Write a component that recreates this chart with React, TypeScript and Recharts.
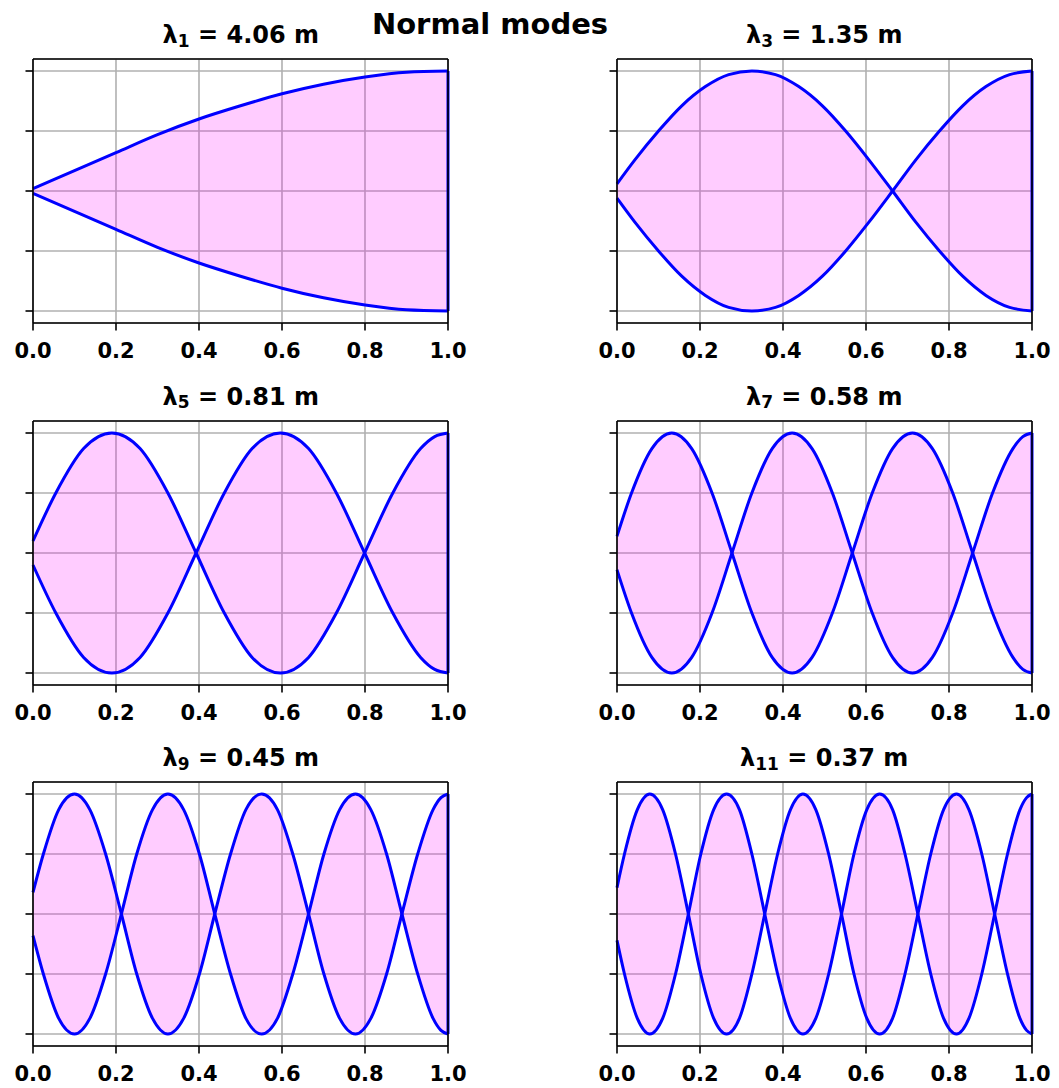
import { ComposedChart, Area, Line, XAxis, YAxis, CartesianGrid, ReferenceLine } from 'recharts';

// tick positions shared by every panel
const xTicks = [0, 0.2, 0.4, 0.6, 0.8, 1.0];
const yTicks = [-1, -0.5, 0, 0.5, 1];

// mode numbers and wavelength labels (titles)
const modeNums = ['1', '3', '5', '7', '9', '11'];
const waveLabels = ['4.06', '1.35', '0.81', '0.58', '0.45', '0.37'];

// mode 1
const x1 = [0, 0.1, 0.2, 0.3, 0.4, 0.5, 0.6, 0.7, 0.8, 0.9, 1.0];
const up1 = [0.02, 0.17, 0.32, 0.47, 0.6, 0.71, 0.81, 0.89, 0.95, 0.99, 1.0];
const lo1 = [-0.02, -0.17, -0.32, -0.47, -0.6, -0.71, -0.81, -0.89, -0.95, -0.99, -1.0];

// mode 3
const x3 = [0, 0.043, 0.1, 0.156, 0.213, 0.269, 0.325, 0.382, 0.438, 0.495, 0.551, 0.607, 0.664, 0.72, 0.777, 0.833, 0.889, 0.946, 1.0];
const up3 = [0.06, 0.26, 0.5, 0.71, 0.87, 0.97, 1.0, 0.97, 0.87, 0.71, 0.5, 0.26, 0.0, -0.26, -0.5, -0.71, -0.87, -0.97, -1.0];
const lo3 = [-0.06, -0.26, -0.5, -0.71, -0.87, -0.97, -1.0, -0.97, -0.87, -0.71, -0.5, -0.26, 0.0, 0.26, 0.5, 0.71, 0.87, 0.97, 1.0];

// mode 5
const x5 = [0, 0.055, 0.122, 0.19, 0.258, 0.325, 0.393, 0.461, 0.528, 0.596, 0.664, 0.731, 0.799, 0.867, 0.934, 0.968, 1.0];
const up5 = [0.1, 0.5, 0.87, 1.0, 0.87, 0.5, 0.0, -0.5, -0.87, -1.0, -0.87, -0.5, 0.0, 0.5, 0.87, 0.97, 1.0];
const lo5 = [-0.1, -0.5, -0.87, -1.0, -0.87, -0.5, 0.0, 0.5, 0.87, 1.0, 0.87, 0.5, 0.0, -0.5, -0.87, -0.97, -1.0];

// mode 7
const x7 = [0, 0.035, 0.084, 0.132, 0.18, 0.229, 0.277, 0.325, 0.374, 0.422, 0.47, 0.519, 0.567, 0.615, 0.664, 0.712, 0.76, 0.809, 0.857, 0.905, 0.954, 0.978, 1.0];
const up7 = [0.14, 0.5, 0.87, 1.0, 0.87, 0.5, 0.0, -0.5, -0.87, -1.0, -0.87, -0.5, 0.0, 0.5, 0.87, 1.0, 0.87, 0.5, 0.0, -0.5, -0.87, -0.97, -1.0];
const lo7 = [-0.14, -0.5, -0.87, -1.0, -0.87, -0.5, 0.0, 0.5, 0.87, 1.0, 0.87, 0.5, 0.0, -0.5, -0.87, -1.0, -0.87, -0.5, 0.0, 0.5, 0.87, 0.97, 1.0];

// mode 9
const x9 = [0, 0.025, 0.062, 0.1, 0.137, 0.175, 0.213, 0.25, 0.288, 0.325, 0.363, 0.401, 0.438, 0.476, 0.513, 0.551, 0.589, 0.626, 0.664, 0.701, 0.739, 0.777, 0.814, 0.852, 0.889, 0.927, 0.964, 0.983, 1.0];
const up9 = [0.18, 0.5, 0.87, 1.0, 0.87, 0.5, 0.0, -0.5, -0.87, -1.0, -0.87, -0.5, 0.0, 0.5, 0.87, 1.0, 0.87, 0.5, 0.0, -0.5, -0.87, -1.0, -0.87, -0.5, 0.0, 0.5, 0.87, 0.97, 1.0];
const lo9 = [-0.18, -0.5, -0.87, -1.0, -0.87, -0.5, 0.0, 0.5, 0.87, 1.0, 0.87, 0.5, 0.0, -0.5, -0.87, -1.0, -0.87, -0.5, 0.0, 0.5, 0.87, 1.0, 0.87, 0.5, 0.0, -0.5, -0.87, -0.97, -1.0];

// mode 11
const x11 = [0, 0.018, 0.049, 0.079, 0.11, 0.141, 0.172, 0.202, 0.233, 0.264, 0.295, 0.325, 0.356, 0.387, 0.418, 0.448, 0.479, 0.51, 0.541, 0.571, 0.602, 0.633, 0.664, 0.694, 0.725, 0.756, 0.787, 0.818, 0.848, 0.879, 0.91, 0.941, 0.971, 0.987, 1.0];
const up11 = [0.22, 0.5, 0.87, 1.0, 0.87, 0.5, 0.0, -0.5, -0.87, -1.0, -0.87, -0.5, 0.0, 0.5, 0.87, 1.0, 0.87, 0.5, 0.0, -0.5, -0.87, -1.0, -0.87, -0.5, 0.0, 0.5, 0.87, 1.0, 0.87, 0.5, 0.0, -0.5, -0.87, -0.97, -1.0];
const lo11 = [-0.22, -0.5, -0.87, -1.0, -0.87, -0.5, 0.0, 0.5, 0.87, 1.0, 0.87, 0.5, 0.0, -0.5, -0.87, -1.0, -0.87, -0.5, 0.0, 0.5, 0.87, 1.0, 0.87, 0.5, 0.0, -0.5, -0.87, -1.0, -0.87, -0.5, 0.0, 0.5, 0.87, 0.97, 1.0];

const panels = [
  { xs: x1, up: up1, lo: lo1 },
  { xs: x3, up: up3, lo: lo3 },
  { xs: x5, up: up5, lo: lo5 },
  { xs: x7, up: up7, lo: lo7 },
  { xs: x9, up: up9, lo: lo9 },
  { xs: x11, up: up11, lo: lo11 },
];

const FONT = '"DejaVu Sans", Verdana, sans-serif';
const colLeft = [33.3, 616.7];
const rowTop = [59.3, 420.7, 782.3];
const BOX_W = 415;
const BOX_H = 264;
const M_LEFT = 32; // plus 1px y axis
const M_TOP = 9; // plus 1px top axis
const AX_H = 50;
const M_RIGHT = 44; // plus 1px right axis
const spine = { stroke: '#000', strokeWidth: 1.6 };

function ModePanel({ idx }: { idx: number }) {
  const p = panels[idx];
  const left = colLeft[idx % 2];
  const top = rowTop[Math.floor(idx / 2)];
  const data = p.xs.map((x, i) => ({ x, band: [p.lo[i], p.up[i]], up: p.up[i], lo: p.lo[i] }));
  const last = p.xs.length - 1;

  return (
    <div style={{ position: 'absolute', left: left - M_LEFT - 1, top: top - M_TOP - 1 }}>
      <ComposedChart
        width={M_LEFT + 1 + BOX_W + 1 + M_RIGHT}
        height={M_TOP + 1 + BOX_H + AX_H}
        data={data}
        margin={{ top: M_TOP, right: M_RIGHT, bottom: 0, left: M_LEFT }}
      >
        <Area
          type="monotone"
          dataKey="band"
          stroke="none"
          fill="#ff00ff"
          fillOpacity={0.2}
          isAnimationActive={false}
        />
        <CartesianGrid stroke="#b0b0b0" strokeWidth={1.6} />
        <Line type="monotone" dataKey="up" stroke="#0000ff" strokeWidth={3} dot={false} isAnimationActive={false} />
        <Line type="monotone" dataKey="lo" stroke="#0000ff" strokeWidth={3} dot={false} isAnimationActive={false} />
        <ReferenceLine
          segment={[{ x: 1, y: p.lo[last] }, { x: 1, y: p.up[last] }]}
          stroke="#0000ff"
          strokeWidth={3}
        />
        <XAxis
          dataKey="x"
          type="number"
          domain={[0, 1]}
          ticks={xTicks}
          interval={0}
          height={AX_H}
          tickSize={7.5}
          tickMargin={12.5}
          axisLine={spine}
          tickLine={spine}
          tickFormatter={(v: number) => v.toFixed(1)}
          tick={{ fill: '#000', fontSize: 21, fontWeight: 'bold', fontFamily: FONT }}
        />
        <XAxis
          xAxisId="top"
          orientation="top"
          type="number"
          domain={[0, 1]}
          height={1}
          tick={false}
          tickLine={false}
          axisLine={spine}
        />
        <YAxis
          type="number"
          domain={[-1.1, 1.1]}
          ticks={yTicks}
          interval={0}
          width={1}
          tickSize={7.5}
          tickFormatter={() => ''}
          tick={{ fontSize: 10 }}
          axisLine={spine}
          tickLine={spine}
        />
        <YAxis
          yAxisId="right"
          orientation="right"
          type="number"
          domain={[-1.1, 1.1]}
          width={1}
          tick={false}
          tickLine={false}
          axisLine={spine}
        />
      </ComposedChart>
    </div>
  );
}

export default function App() {
  return (
    <div style={{ position: 'absolute', left: 0, top: 0, width: 1059, height: 1088, background: '#fff' }}>
      {panels.map((_, i) => (
        <ModePanel key={i} idx={i} />
      ))}
      <svg
        width={1059}
        height={1088}
        style={{ position: 'absolute', left: 0, top: 0, pointerEvents: 'none' }}
      >
        <text x={490} y={34} textAnchor="middle" fontFamily={FONT} fontWeight="bold" fontSize={29} fill="#000">
          Normal modes
        </text>
        {modeNums.map((n, i) => (
          <text
            key={n}
            x={colLeft[i % 2] + BOX_W / 2}
            y={rowTop[Math.floor(i / 2)] - 16}
            textAnchor="middle"
            fontFamily={FONT}
            fontWeight="bold"
            fontSize={24}
            fill="#000"
            style={{ whiteSpace: 'pre' }}
          >
            λ
            <tspan fontSize={17} dy={3.5}>{n}</tspan>
            <tspan dy={-3.5}>{` = ${waveLabels[i]} m`}</tspan>
          </text>
        ))}
      </svg>
    </div>
  );
}
